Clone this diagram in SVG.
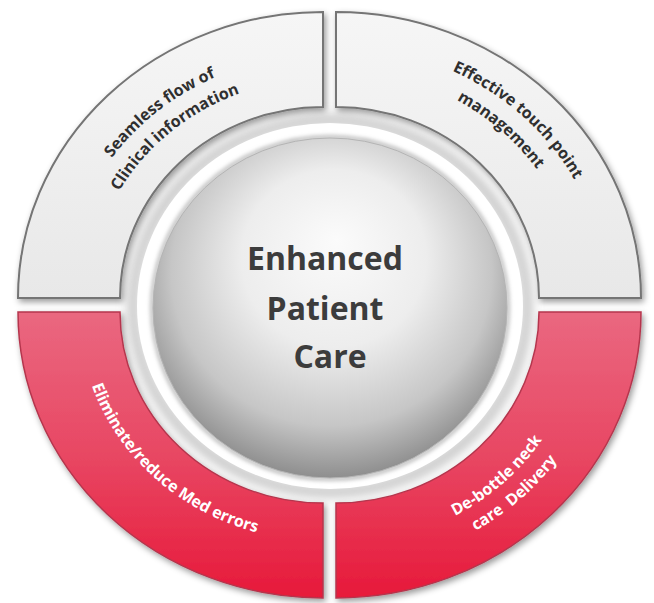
<svg xmlns="http://www.w3.org/2000/svg" xmlns:xlink="http://www.w3.org/1999/xlink" width="654" height="603" viewBox="0 0 654 603">
<style>
.seg-gray{fill:url(#gGray);stroke:#747474;stroke-width:2;filter:url(#shadow)}
.seg-red{fill:url(#gRed);stroke:#b5364d;stroke-width:1.5;filter:url(#shadow)}
.lbl{font-family:"Open Sans","Liberation Sans",sans-serif;font-weight:bold;font-size:16px}
.dark{fill:#2f2f2f}
.light{fill:#ffffff}
.title{font-family:"Open Sans","Liberation Sans",sans-serif;font-weight:bold;font-size:32px;fill:#3c3c3c;text-anchor:middle}
</style>
<defs>
<filter id="shadow" x="-10%" y="-10%" width="125%" height="125%">
<feDropShadow dx="2" dy="3" stdDeviation="3" flood-color="#000" flood-opacity="0.4"/>
</filter>
<filter id="blur6"><feGaussianBlur stdDeviation="6"/></filter>
<filter id="blur2"><feGaussianBlur stdDeviation="2"/></filter>
<linearGradient id="gGray" x1="0" y1="0" x2="0" y2="1">
<stop offset="0" stop-color="#f6f6f6"/>
<stop offset="1" stop-color="#e8e8e8"/>
</linearGradient>
<linearGradient id="gRed" gradientUnits="userSpaceOnUse" x1="0" y1="312" x2="0" y2="598">
<stop offset="0" stop-color="#ea6880"/>
<stop offset="0.5" stop-color="#e84763"/>
<stop offset="1" stop-color="#e7193a"/>
</linearGradient>
<radialGradient id="gSphere" cx="0.5" cy="0.42" r="0.58" fx="0.52" fy="0.3">
<stop offset="0" stop-color="#fbfbfb"/>
<stop offset="0.45" stop-color="#ededed"/>
<stop offset="0.78" stop-color="#c6c6c6"/>
<stop offset="1" stop-color="#8e8e8e"/>
</radialGradient>
<path id="pTL1" d="M69.2,344.3 A259.3,243.1 0 0 1 408.2,68.2"/>
<path id="pTL2" d="M94.5,343.4 A233.3,218.8 0 0 1 395.1,90.0"/>
<path id="pTR1" d="M265.5,54.5 A272.0,255.0 0 0 1 598.7,364.0"/>
<path id="pTR2" d="M268.7,78.9 A244.0,228.8 0 0 1 572.7,353.3"/>
<path id="pBL1" d="M86.8,254.7 A244,228.8 0 0 0 388.2,532.7"/>
<path id="pBR1" d="M268.4,535.2 A244,228.8 0 0 0 572.8,256.6"/>
<path id="pBR2" d="M260.8,556.9 A271.5,254.5 0 0 0 599.4,250.4"/>
</defs>
<rect width="654" height="603" fill="#ffffff"/>

<g id="node-center">
<ellipse cx="330" cy="306" rx="197" ry="186" fill="none" stroke="#b0b0b0" stroke-width="8" filter="url(#blur6)"/>
<ellipse cx="330" cy="306" rx="193" ry="183" fill="#ffffff"/>
<ellipse cx="330" cy="308" rx="178" ry="171" fill="none" stroke="#a8a8a8" stroke-width="3" filter="url(#blur2)"/>
<ellipse cx="330" cy="308" rx="177" ry="170" fill="url(#gSphere)" stroke="#b4b4b4" stroke-width="1"/>
<text class="title" x="325" y="270">Enhanced</text>
<text class="title" x="325" y="320">Patient</text>
<text class="title" x="330" y="368">Care</text>
</g>

<g id="node-tl">
<path class="seg-gray" d="M18,298 A305,286 0 0 1 323,12 L323,107 A203,191 0 0 0 120,298 Z"/>
<text class="lbl dark"><textPath xlink:href="#pTL1" href="#pTL1" startOffset="50%" text-anchor="middle">Seamless flow of</textPath></text>
<text class="lbl dark"><textPath xlink:href="#pTL2" href="#pTL2" startOffset="50%" text-anchor="middle">Clinical information</textPath></text>
</g>

<g id="node-tr">
<path class="seg-gray" d="M336,12 A305,286 0 0 1 641,298 L539,298 A203,191 0 0 0 336,107 Z"/>
<text class="lbl dark"><textPath xlink:href="#pTR1" href="#pTR1" startOffset="50%" text-anchor="middle">Effective touch point</textPath></text>
<text class="lbl dark"><textPath xlink:href="#pTR2" href="#pTR2" startOffset="50%" text-anchor="middle">management</textPath></text>
</g>

<g id="node-bl">
<path class="seg-red" d="M18,312 L120,312 A203,191 0 0 0 323,503 L323,598 A305,286 0 0 1 18,312 Z"/>
<text class="lbl light"><textPath xlink:href="#pBL1" href="#pBL1" startOffset="50%" text-anchor="middle">Eliminate/reduce Med errors</textPath></text>
</g>

<g id="node-br">
<path class="seg-red" d="M539,312 L641,312 A305,286 0 0 1 336,598 L336,503 A203,191 0 0 0 539,312 Z"/>
<text class="lbl light"><textPath xlink:href="#pBR1" href="#pBR1" startOffset="50%" text-anchor="middle">De-bottle neck</textPath></text>
<text class="lbl light" style="white-space:pre"><textPath xlink:href="#pBR2" href="#pBR2" startOffset="50%" text-anchor="middle">care  Delivery</textPath></text>
</g>
</svg>
